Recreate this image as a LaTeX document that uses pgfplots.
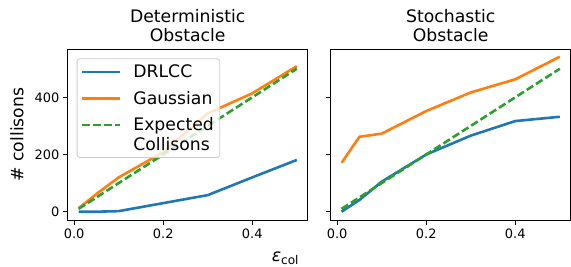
\documentclass[border=0pt]{standalone}
\usepackage{pgfplots}
\pgfplotsset{compat=1.18}
\usepackage{fontspec}
\setmainfont{DejaVu Sans}
\definecolor{tabblue}{HTML}{1F77B4}
\definecolor{taborange}{HTML}{FF7F0E}
\definecolor{tabgreen}{HTML}{2CA02C}
\begin{document}
\begin{tikzpicture}
\path[use as bounding box] (-67.7bp,-47bp) rectangle (503.3bp,220bp);
\pgfplotsset{
 every axis/.append style={
  scale only axis, width=240bp, height=170.7bp,
  xmin=-0.0145, xmax=0.5245, ymin=-29, ymax=568,
  xtick={0,0.2,0.4}, ytick={0,200,400},
  tick align=outside, major tick length=4.9bp,
  tick pos=left,
  every tick/.style={black, line width=0.8bp},
  axis line style={line width=0.8bp},
  tick label style={font=\fontsize{13}{15}\selectfont},
  /pgf/number format/assume math mode=true,
  xticklabel style={/pgf/number format/.cd, fixed, fixed zerofill, precision=1},
  title style={font=\fontsize{17.3}{19.5}\selectfont, align=center, yshift=-2bp},
  every axis plot/.append style={line width=2.6bp, line join=round},
  legend image code/.code={\draw[line width=2.6bp,#1] (0bp,0bp) -- (37.7bp,0bp);},
 }
}
\begin{axis}[
  title={Deterministic\\Obstacle},
  legend style={at={(0.0375,0.947)}, anchor=north west, font=\fontsize{17.3}{19.5}\selectfont,
    draw=black!20, line width=0.8bp, fill=white, fill opacity=0.8, text opacity=1, rounded corners=3bp,
    cells={align=left, anchor=west}, inner xsep=4bp, inner ysep=4bp, row sep=8bp, column sep=10bp},
]
\addplot[tabblue] coordinates {(0.01,0) (0.05,0) (0.1,2) (0.2,30) (0.3,58) (0.4,120) (0.5,181)};
\addlegendentry{DRLCC}
\addplot[taborange] coordinates {(0.01,12) (0.05,62) (0.1,120) (0.2,208) (0.3,344) (0.4,414) (0.5,509)};
\addlegendentry{Gaussian}
\addplot[tabgreen, dash pattern=on 7.7bp off 3.3bp, legend image post style={yshift=9.75bp}] coordinates {(0.01,10) (0.05,50) (0.1,100) (0.2,200) (0.3,300) (0.4,400) (0.5,500)};
\addlegendentry{Expected\\Collisons}
\end{axis}
\begin{axis}[
  at={(263bp,0bp)},
  title={Stochastic\\Obstacle},
  yticklabels={},
]
\addplot[tabblue] coordinates {(0.01,0) (0.05,41) (0.1,105) (0.2,200) (0.3,266) (0.4,317) (0.5,332)};
\addplot[taborange] coordinates {(0.01,171) (0.05,262) (0.1,273) (0.2,352) (0.3,417) (0.4,463) (0.5,542)};
\addplot[tabgreen, dash pattern=on 7.7bp off 3.3bp] coordinates {(0.01,10) (0.05,50) (0.1,100) (0.2,200) (0.3,300) (0.4,400) (0.5,500)};
\end{axis}
\node[font=\fontsize{17.3}{19.5}\selectfont] at (217.8bp,-38bp) {\textit{ε}\textsubscript{col}};
\node[font=\fontsize{17.3}{19.5}\selectfont, rotate=90] at (-50.7bp,85.35bp) {\# collisons};
\end{tikzpicture}
\end{document}
